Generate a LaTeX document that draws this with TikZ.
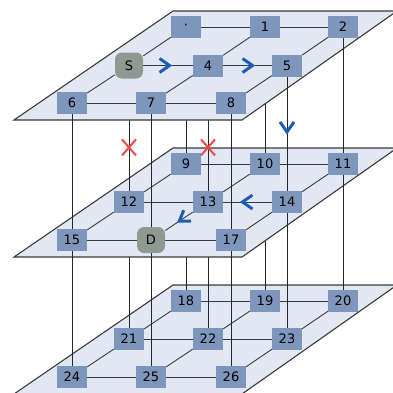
\documentclass[tikz,border=0pt]{standalone}
\usepackage{fontspec}
\setmainfont{DejaVu Sans}
\usetikzlibrary{calc}
\usepackage{xcolor}
\definecolor{meshplane}{HTML}{E2E8F3}
\definecolor{meshnode}{HTML}{7F96BC}
\definecolor{meshend}{HTML}{8E9992}
\definecolor{meshline}{HTML}{3A3A3A}
\definecolor{routeblue}{HTML}{1E5CB8}
\definecolor{cutred}{HTML}{F24A4A}
\pgfdeclarelayer{lowplane}
\pgfdeclarelayer{lowhidden}
\pgfdeclarelayer{midplane}
\pgfdeclarelayer{midhidden}
\pgfdeclarelayer{topplane}
\pgfsetlayers{lowplane,lowhidden,midplane,midhidden,topplane,main}

\begin{document}
\begin{tikzpicture}[x=1pt, y=-1pt, font=\fontsize{13}{15}\selectfont,
    plane/.style={draw=meshline, fill=meshplane, line width=1.1pt},
    link/.style={draw=meshline, line width=0.9pt},
    vlink/.style={draw=black!85, line width=0.9pt},
    router/.style={fill=meshnode, minimum width=30pt, minimum height=22pt, inner sep=0pt},
    endpoint/.style={fill=meshend, rounded corners=7pt, minimum width=28pt, minimum height=26pt, inner sep=0pt},
    chev/.style={draw=routeblue, line width=3pt},
    cut/.style={draw=cutred, line width=2pt}]
    \useasboundingbox (0,0) rectangle (393,392);

    % bottom layer
    \begin{pgfonlayer}{lowplane}
    \draw[plane] (14,394) -- (242,394) -- (397,285) -- (173,285) -- cycle;
    \node[router] (n18) at (186,301) {18};
    \node[router] (n19) at (265,301) {19};
    \node[router] (n20) at (343,301) {20};
    \node[router] (n21) at (129,339) {21};
    \node[router] (n22) at (208,339) {22};
    \node[router] (n23) at (287,339) {23};
    \node[router] (n24) at (72,377) {24};
    \node[router] (n25) at (151,377) {25};
    \node[router] (n26) at (231,377) {26};
    \draw[link] (n18) -- (n19) -- (n20) (n21) -- (n22) -- (n23) (n24) -- (n25) -- (n26);
    \draw[link] (n18) -- (n21) -- (n24) (n19) -- (n22) -- (n25) (n20) -- (n23) -- (n26);
    \end{pgfonlayer}

    % middle layer
    \begin{pgfonlayer}{midplane}
    \draw[plane] (14,257) -- (242,257) -- (397,148) -- (173,148) -- cycle;
    \node[router] (n9) at (186,164) {9};
    \node[router] (n10) at (265,164) {10};
    \node[router] (n11) at (343,164) {11};
    \node[router] (n12) at (129,202) {12};
    \node[router] (n13) at (208,202) {13};
    \node[router] (n14) at (287,202) {14};
    \node[router] (n15) at (72,240) {15};
    \node[endpoint] (d) at (151,240) {D};
    \node[router] (n17) at (231,240) {17};
    \draw[link] (n9) -- (n10) -- (n11) (n12) -- (n13) -- (n14) (n15) -- (d) -- (n17);
    \draw[link] (n9) -- (n12) -- (n15) (n10) -- (n13) -- (d) (n11) -- (n14) -- (n17);
    \end{pgfonlayer}

    % top layer
    \begin{pgfonlayer}{topplane}
    \draw[plane] (14,120) -- (242,120) -- (397,11) -- (173,11) -- cycle;
    \node[router] (dot) at (186,27) {·};
    \node[router] (n1) at (265,27) {1};
    \node[router] (n2) at (343,27) {2};
    \node[endpoint] (s) at (129,65.5) {S};
    \node[router] (n4) at (208,65.5) {4};
    \node[router] (n5) at (287,65.5) {5};
    \node[router] (n6) at (72,103) {6};
    \node[router] (n7) at (151,103) {7};
    \node[router] (n8) at (231,103) {8};
    \draw[link] (dot) -- (n1) -- (n2) (s) -- (n4) -- (n5) (n6) -- (n7) -- (n8);
    \draw[link] (dot) -- (s) -- (n6) (n1) -- (n4) -- (n7) (n2) -- (n5) -- (n8);
    \end{pgfonlayer}

    % vertical links
    \begin{pgfonlayer}{lowhidden}
    \draw[vlink] (n9) -- (n18) (n10) -- (n19) (n12) -- (n21) (n13) -- (n22);
    \end{pgfonlayer}
    \begin{pgfonlayer}{midhidden}
    \draw[vlink] (n11) -- (n20) (n14) -- (n23) (n15) -- (n24) (d) -- (n25) (n17) -- (n26);
    \draw[vlink] (dot) -- (n9) (n1) -- (n10) (s) -- (n12) (n4) -- (n13);
    \end{pgfonlayer}
    \draw[vlink] (n6) -- (n15) (n7) -- (d) (n8) -- (n17) (n5) -- (n14) (n2) -- (n11);

    % route and cut links
    \draw[chev] ($(s)!0.45!(n4)$) ++(-5,-7) -- ++(10,7) -- ++(-10,7);
    \draw[chev] ($(n4)!0.5!(n5)$) ++(-5,-7) -- ++(10,7) -- ++(-10,7);
    \draw[chev] ($(n5)!0.45!(n14)$) ++(-7,-5) -- ++(7,10) -- ++(7,-10);
    \draw[chev] ($(n14)!0.5!(n13)$) ++(5,-7) -- ++(-10,7) -- ++(10,7);
    \draw[chev] ($(n13)!0.44!(d)$) ++(0.8,-8.5) -- ++(-4.5,11) -- ++(11.8,0);
    \draw[cut] ($(s)!0.6!(n12)$) ++(-7,-8) -- ++(14,16) ++(0,-16) -- ++(-14,16);
    \draw[cut] ($(n4)!0.6!(n13)$) ++(-7,-8) -- ++(14,16) ++(0,-16) -- ++(-14,16);
\end{tikzpicture}
\end{document}
